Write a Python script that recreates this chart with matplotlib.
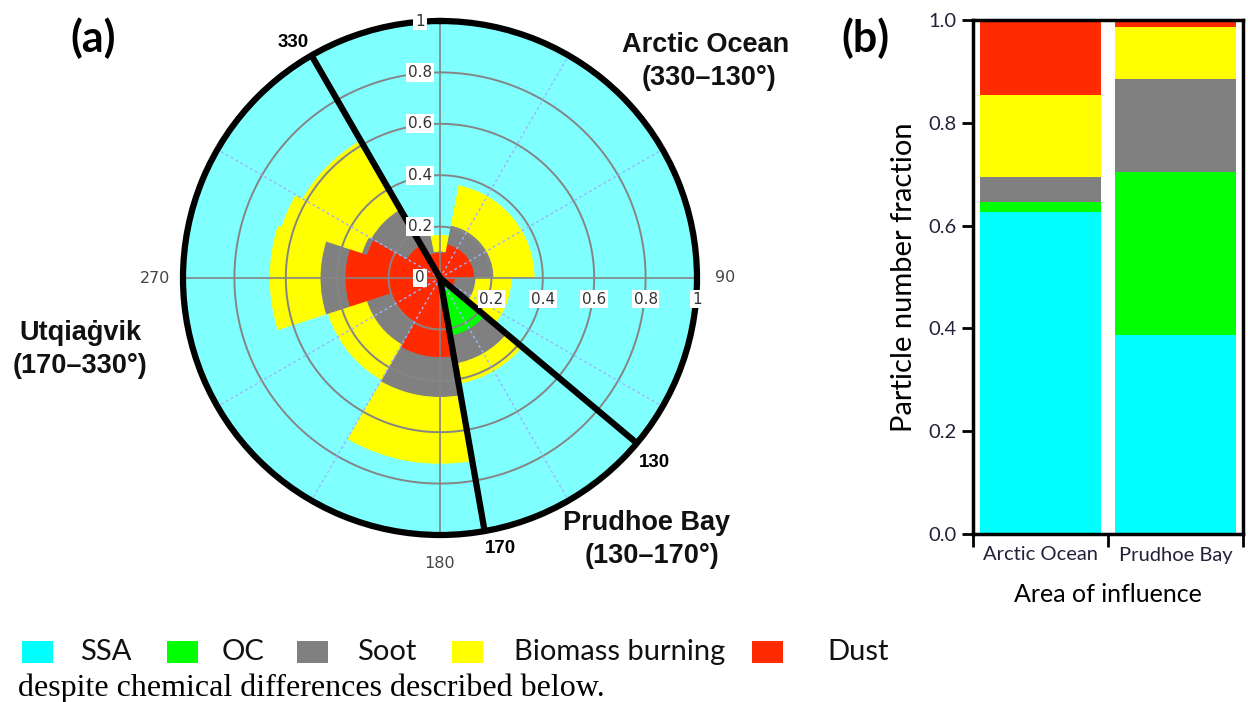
import numpy as np
import matplotlib
matplotlib.use("Agg")
import matplotlib.pyplot as plt
from matplotlib.patches import Rectangle

# ---------------- data ----------------
class_names = ["SSA", "OC", "Soot", "Biomass burning", "Dust"]
class_colors = ["#00ffff", "#00ff00", "#808080", "#ffff00", "#ff2a00"]
rose_ssa_color = "#80ffff"

# wind-direction sectors, degrees clockwise from north
sector_start = [348, 11, 90, 130, 170, 210, 252, 288, 300, 330]
sector_end = [371, 90, 130, 170, 210, 252, 288, 300, 330, 348]

# particle number fraction per sector (stacked from the centre outward:
# dust, OC, soot, biomass burning, SSA)
rose_dust = [0.10, 0.135, 0.06, 0.02, 0.31, 0.20, 0.37, 0.30, 0.15, 0.10]
rose_oc = [0.00, 0.00, 0.00, 0.21, 0.00, 0.00, 0.00, 0.00, 0.00, 0.00]
rose_soot = [0.005, 0.075, 0.08, 0.11, 0.155, 0.10, 0.097, 0.02, 0.16, 0.11]
rose_biomass = [0.065, 0.16, 0.14, 0.08, 0.26, 0.16, 0.198, 0.33, 0.31, 0.01]
rose_ssa = [0.83, 0.63, 0.72, 0.58, 0.275, 0.54, 0.335, 0.35, 0.38, 0.78]

# area-of-influence averages
areas = ["Arctic Ocean", "Prudhoe Bay"]
area_ssa = [0.627, 0.387]
area_oc = [0.019, 0.318]
area_soot = [0.049, 0.181]
area_biomass = [0.160, 0.101]
area_dust = [0.145, 0.013]

# boundaries between the areas of influence
boundary_angles = [330, 130, 170]

W, H = 1248, 702
fig = plt.figure(figsize=(W / 100, H / 100), dpi=100)
fig.patch.set_facecolor("white")

def px_rect(x0, y0, x1, y1):
    """figure-fraction rect from pixel box (y measured from the top)"""
    return [x0 / W, 1 - y1 / H, (x1 - x0) / W, (y1 - y0) / H]

# ---------------- (a) wind rose ----------------
cx, cy, R = 440, 278, 257
ax = fig.add_axes(px_rect(cx - R, cy - R, cx + R, cy + R), projection="polar")
ax.set_theta_zero_location("N")
ax.set_theta_direction(-1)
ax.set_ylim(0, 1)
ax.set_xticks([])
ax.set_yticks([])
ax.grid(False)
ax.set_facecolor("none")
ax.spines["polar"].set_linewidth(4.5)
ax.spines["polar"].set_zorder(6)

start = np.array(sector_start, float)
end = np.array(sector_end, float)
theta = np.deg2rad((start + end) / 2)
width = np.deg2rad(end - start)

layers = [
    (rose_dust, class_colors[4]),
    (rose_oc, class_colors[1]),
    (rose_soot, class_colors[2]),
    (rose_biomass, class_colors[3]),
    (rose_ssa, rose_ssa_color),
]
bottom = np.zeros(len(theta))
for values, col in layers:
    h = np.array(values, float)
    lw = [0.8 if v > 0 else 0 for v in h]
    ax.bar(theta, h, width=width, bottom=bottom, color=col,
           edgecolor=col, linewidth=lw, zorder=2, align="center")
    bottom = bottom + h

# grid drawn over the sectors
th = np.linspace(0, 2 * np.pi, 721)
for r in [0.2, 0.4, 0.6, 0.8]:
    ax.plot(th, np.full_like(th, r), color="#858585", lw=1.4, zorder=3)
for a in [0, 90, 180, 270]:
    ax.plot([np.deg2rad(a)] * 2, [0, 1], color="#858585", lw=1.2, zorder=3)
for a in [30, 60, 120, 150, 210, 240, 300, 330]:
    ax.plot([np.deg2rad(a)] * 2, [0, 1], color="#9fb2ff", lw=1.0,
            ls=(0, (2, 2)), zorder=3)

for a in boundary_angles:
    ax.plot([np.deg2rad(a)] * 2, [0, 1], color="black", lw=4.5, zorder=5,
            solid_capstyle="butt")

# radial tick labels
tick_kw = dict(fontsize=11, family="DejaVu Sans", color="#333333",
               ha="center", va="center", zorder=7, annotation_clip=False,
               bbox=dict(boxstyle="square,pad=0.12", fc="white", ec="none"))
ax.annotate("0", xy=(0, 0), xytext=(-20, 0), textcoords="offset pixels", **tick_kw)
for r, lab in zip([0.2, 0.4, 0.6, 0.8, 1.0], ["0.2", "0.4", "0.6", "0.8", "1"]):
    ax.annotate(lab, xy=(0, r), xytext=(-20, 0), textcoords="offset pixels", **tick_kw)
    ax.annotate(lab, xy=(np.pi / 2, r), xytext=(0, -21), textcoords="offset pixels", **tick_kw)

# compass labels
for a, lab in [(90, "90"), (180, "180"), (270, "270")]:
    ax.text(np.deg2rad(a), 1.11, lab, fontsize=11.5, family="DejaVu Sans",
            color="#444444", ha="center", va="center", clip_on=False)
for a, r, lab in [(328, 1.08, "330"), (130.7, 1.10, "130"), (167.5, 1.08, "170")]:
    ax.text(np.deg2rad(a), r, lab, fontsize=13.5, family="Liberation Sans",
            weight="bold", color="black", ha="center", va="center", clip_on=False)

# area-of-influence labels
reg_kw = dict(fontsize=19.5, family="Liberation Sans", weight="bold",
              color="#111111", ha="center", va="center")
fig.text(706 / W, 1 - 45 / H, "Arctic Ocean", **reg_kw)
fig.text(709 / W, 1 - 78 / H, "(330\u2013130°)", **reg_kw)
fig.text(80 / W, 1 - 333 / H, "Utqia\u0121vik", **reg_kw)
fig.text(80 / W, 1 - 366 / H, "(170\u2013330°)", **reg_kw)
fig.text(647 / W, 1 - 523 / H, "Prudhoe Bay", **reg_kw)
fig.text(652 / W, 1 - 556 / H, "(130\u2013170°)", **reg_kw)

fig.text(93 / W, 1 - 38 / H, "(a)", fontsize=31, family="Lato", weight="bold",
         ha="center", va="center")
fig.text(865 / W, 1 - 38 / H, "(b)", fontsize=31, family="Lato", weight="bold",
         ha="center", va="center")

# ---------------- (b) stacked bars ----------------
bx = fig.add_axes(px_rect(973, 20, 1243, 534))
xpos = np.array([0.5, 1.5])
stack = [area_ssa, area_oc, area_soot, area_biomass, area_dust]
base = np.zeros(2)
for vals, col in zip(stack, class_colors):
    v = np.array(vals, float)
    bx.bar(xpos, v, width=0.9, bottom=base, color=col, edgecolor="none", zorder=2)
    base = base + v
bx.set_xlim(0, 2)
bx.set_ylim(0, 1)
for s in bx.spines.values():
    s.set_linewidth(2.5)
tick_col = "#22223a"
bx.set_yticks([0, 0.2, 0.4, 0.6, 0.8, 1.0])
bx.set_yticklabels(["0.0", "0.2", "0.4", "0.6", "0.8", "1.0"])
bx.set_xticks([0, 1, 2])
bx.set_xticklabels([])
bx.set_xticks(xpos, minor=True)
bx.set_xticklabels(areas, minor=True)
bx.tick_params(axis="y", direction="out", length=8, width=2, labelsize=14.5,
               labelcolor=tick_col, pad=4)
bx.tick_params(axis="x", which="major", direction="out", length=9, width=2)
bx.tick_params(axis="x", which="minor", length=0, labelsize=14.5,
               labelcolor=tick_col, pad=9)
for t in bx.get_yticklabels() + bx.get_xticklabels(minor=True):
    t.set_family("Lato")
bx.set_ylabel("Particle number fraction", fontsize=21, family="Lato", labelpad=8)
bx.set_xlabel("Area of influence", fontsize=18, family="Lato", labelpad=14)

# ---------------- legend row ----------------
sq_x = [22, 167, 297, 452, 752]
txt_x = [80, 222, 357, 514, 827]
ly = 652
for name, col, sx, tx in zip(class_names, class_colors, sq_x, txt_x):
    fig.patches.append(Rectangle((sx / W, 1 - (ly + 11) / H), 31 / W, 22 / H,
                                 transform=fig.transFigure, facecolor=col,
                                 edgecolor="none"))
    fig.text(tx / W, 1 - ly / H, name, fontsize=21, family="Lato",
             ha="left", va="center", color="#111111")

fig.text(18 / W, 1 - 696 / H, "despite chemical differences described below.",
         fontsize=23, family="Liberation Serif", ha="left", va="baseline",
         color="black")

fig.savefig("out.png", dpi=100)
